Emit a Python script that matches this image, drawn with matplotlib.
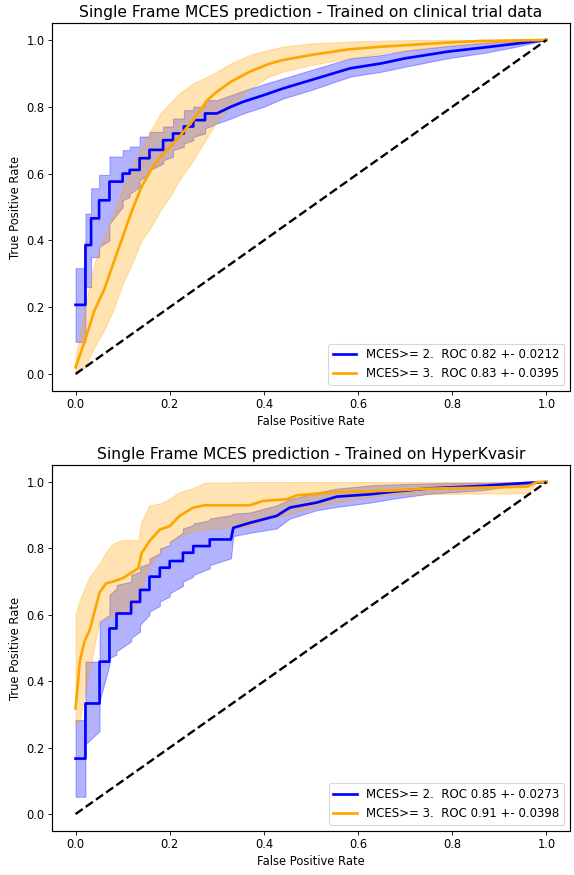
import matplotlib
matplotlib.use("Agg")
import matplotlib.pyplot as plt

# ---- top panel: trained on clinical trial data ----
top_title = "Single Frame MCES prediction - Trained on clinical trial data"
top_labels = ["MCES>= 2.  ROC 0.82 +- 0.0212", "MCES>= 3.  ROC 0.83 +- 0.0395"]

top2_fpr = [0.0, 0.021, 0.021, 0.033, 0.033, 0.05, 0.05, 0.072, 0.072, 0.10, 0.10, 0.115,
            0.115, 0.136, 0.136, 0.157, 0.157, 0.186, 0.186, 0.207, 0.207, 0.23, 0.23, 0.25,
            0.25, 0.275, 0.275, 0.30, 0.33, 0.356, 0.40, 0.441, 0.50, 0.583, 0.65, 0.70,
            0.79, 0.87, 0.93, 1.0]
top2_tpr = [0.207, 0.207, 0.386, 0.386, 0.466, 0.466, 0.52, 0.52, 0.576, 0.576, 0.60, 0.60,
            0.611, 0.611, 0.646, 0.646, 0.671, 0.671, 0.70, 0.70, 0.72, 0.72, 0.741, 0.741,
            0.76, 0.76, 0.78, 0.78, 0.80, 0.815, 0.835, 0.855, 0.88, 0.915, 0.93, 0.945,
            0.965, 0.978, 0.988, 1.0]
top2_lo = [0.096, 0.096, 0.26, 0.26, 0.35, 0.35, 0.38, 0.40, 0.45, 0.50, 0.52, 0.53,
           0.54, 0.56, 0.58, 0.60, 0.61, 0.63, 0.64, 0.65, 0.67, 0.68, 0.69, 0.70,
           0.71, 0.72, 0.735, 0.75, 0.765, 0.78, 0.80, 0.825, 0.85, 0.89, 0.905, 0.92,
           0.945, 0.962, 0.978, 1.0]
top2_hi = [0.317, 0.317, 0.48, 0.48, 0.556, 0.556, 0.596, 0.596, 0.651, 0.651, 0.67, 0.67,
           0.681, 0.681, 0.711, 0.711, 0.725, 0.725, 0.741, 0.741, 0.765, 0.765, 0.79, 0.79,
           0.80, 0.80, 0.82, 0.82, 0.835, 0.848, 0.868, 0.885, 0.91, 0.945, 0.955, 0.968,
           0.982, 0.992, 0.997, 1.0]

top3_fpr = [0.0, 0.02, 0.04, 0.06, 0.08, 0.10, 0.12, 0.14, 0.16, 0.18, 0.20, 0.22, 0.25,
            0.28, 0.30, 0.33, 0.37, 0.41, 0.44, 0.50, 0.58, 0.65, 0.72, 0.80, 0.86, 1.0]
top3_tpr = [0.02, 0.10, 0.19, 0.25, 0.33, 0.41, 0.49, 0.56, 0.61, 0.65, 0.68, 0.71, 0.76,
            0.82, 0.845, 0.875, 0.905, 0.928, 0.94, 0.955, 0.972, 0.98, 0.986, 0.993, 0.997, 1.0]
top3_lo = [0.0, 0.02, 0.08, 0.13, 0.19, 0.27, 0.33, 0.40, 0.44, 0.49, 0.53, 0.58, 0.64,
           0.71, 0.755, 0.80, 0.855, 0.89, 0.905, 0.925, 0.945, 0.96, 0.972, 0.985, 0.99, 1.0]
top3_hi = [0.05, 0.20, 0.33, 0.41, 0.48, 0.56, 0.62, 0.68, 0.73, 0.78, 0.81, 0.84, 0.87,
           0.89, 0.905, 0.93, 0.955, 0.97, 0.98, 0.99, 0.995, 0.998, 1.0, 1.0, 1.0, 1.0]

# ---- bottom panel: trained on HyperKvasir ----
bot_title = "Single Frame MCES prediction - Trained on HyperKvasir"
bot_labels = ["MCES>= 2.  ROC 0.85 +- 0.0273", "MCES>= 3.  ROC 0.91 +- 0.0398"]

bot2_fpr = [0.0, 0.021, 0.021, 0.051, 0.051, 0.072, 0.072, 0.087, 0.087, 0.118, 0.118, 0.137,
            0.137, 0.157, 0.157, 0.179, 0.179, 0.20, 0.20, 0.228, 0.228, 0.25, 0.25, 0.285,
            0.285, 0.33, 0.335, 0.37, 0.427, 0.455, 0.512, 0.555, 0.626, 0.675, 0.753, 0.86,
            0.966, 1.0]
bot2_tpr = [0.167, 0.167, 0.333, 0.333, 0.459, 0.459, 0.559, 0.559, 0.604, 0.604, 0.639, 0.639,
            0.675, 0.675, 0.715, 0.715, 0.742, 0.742, 0.762, 0.762, 0.787, 0.787, 0.807, 0.807,
            0.827, 0.827, 0.862, 0.877, 0.898, 0.923, 0.938, 0.956, 0.963, 0.971, 0.981, 0.988,
            0.998, 1.0]
bot2_lo = [0.052, 0.052, 0.21, 0.25, 0.34, 0.45, 0.47, 0.48, 0.49, 0.52, 0.53, 0.55,
           0.57, 0.60, 0.61, 0.627, 0.64, 0.655, 0.665, 0.687, 0.70, 0.715, 0.72, 0.74,
           0.75, 0.77, 0.837, 0.847, 0.86, 0.89, 0.915, 0.925, 0.938, 0.95, 0.965, 0.975,
           0.995, 1.0]
bot2_hi = [0.283, 0.283, 0.459, 0.459, 0.579, 0.60, 0.66, 0.68, 0.69, 0.70, 0.72, 0.73,
           0.745, 0.755, 0.77, 0.785, 0.80, 0.81, 0.82, 0.847, 0.86, 0.87, 0.875, 0.885,
           0.89, 0.90, 0.905, 0.908, 0.93, 0.948, 0.968, 0.98, 0.99, 0.993, 0.996, 0.998,
           1.0, 1.0]

bot3_fpr = [0.0, 0.009, 0.019, 0.03, 0.051, 0.065, 0.079, 0.10, 0.122, 0.133, 0.14, 0.157,
            0.179, 0.20, 0.221, 0.25, 0.274, 0.37, 0.398, 0.448, 0.47, 0.555, 0.668, 0.75,
            0.959, 0.98, 1.0]
bot3_tpr = [0.318, 0.46, 0.52, 0.554, 0.667, 0.695, 0.70, 0.71, 0.73, 0.74, 0.785, 0.822,
            0.857, 0.867, 0.898, 0.923, 0.93, 0.93, 0.943, 0.948, 0.96, 0.97, 0.974, 0.98,
            0.986, 1.0, 1.0]
bot3_lo = [0.27, 0.283, 0.36, 0.434, 0.584, 0.59, 0.594, 0.605, 0.62, 0.64, 0.68, 0.747,
           0.787, 0.817, 0.835, 0.85, 0.857, 0.867, 0.887, 0.90, 0.91, 0.94, 0.962, 0.964,
           0.966, 1.0, 1.0]
bot3_hi = [0.60, 0.645, 0.68, 0.715, 0.755, 0.79, 0.815, 0.825, 0.825, 0.825, 0.88, 0.93,
           0.935, 0.95, 0.97, 0.982, 0.998, 1.0, 1.0, 1.0, 1.0, 1.0, 1.0, 1.0,
           1.0, 1.0, 1.0]

plt.rcParams.update({
    "axes.titlesize": 14.5,
    "axes.labelsize": 10.8,
    "xtick.labelsize": 10.8,
    "ytick.labelsize": 10.8,
    "legend.fontsize": 11,
    "axes.linewidth": 1.1,
})


def draw_panel(ax, title, labels, curves):
    colors = ["blue", "orange"]
    for (fpr, tpr, lo, hi), label, color in zip(curves, labels, colors):
        ax.plot(fpr, tpr, color=color, lw=2.5, label=label)
        ax.fill_between(fpr, lo, hi, color=color, alpha=0.3)
    ax.plot([0, 1], [0, 1], "k--", lw=2.2)
    ax.set_title(title)
    ax.set_xlabel("False Positive Rate")
    ax.set_ylabel("True Positive Rate")
    ax.legend(loc="lower right")


fig = plt.figure(figsize=(574 / 77, 875 / 77), dpi=77)
ax_top = fig.add_axes([0.0906, 0.5535, 0.9024, 0.4199])
ax_bot = fig.add_axes([0.0906, 0.0507, 0.9024, 0.4174])

draw_panel(ax_top, top_title, top_labels,
           [(top2_fpr, top2_tpr, top2_lo, top2_hi), (top3_fpr, top3_tpr, top3_lo, top3_hi)])
draw_panel(ax_bot, bot_title, bot_labels,
           [(bot2_fpr, bot2_tpr, bot2_lo, bot2_hi), (bot3_fpr, bot3_tpr, bot3_lo, bot3_hi)])

fig.savefig("out.png", dpi=77)
